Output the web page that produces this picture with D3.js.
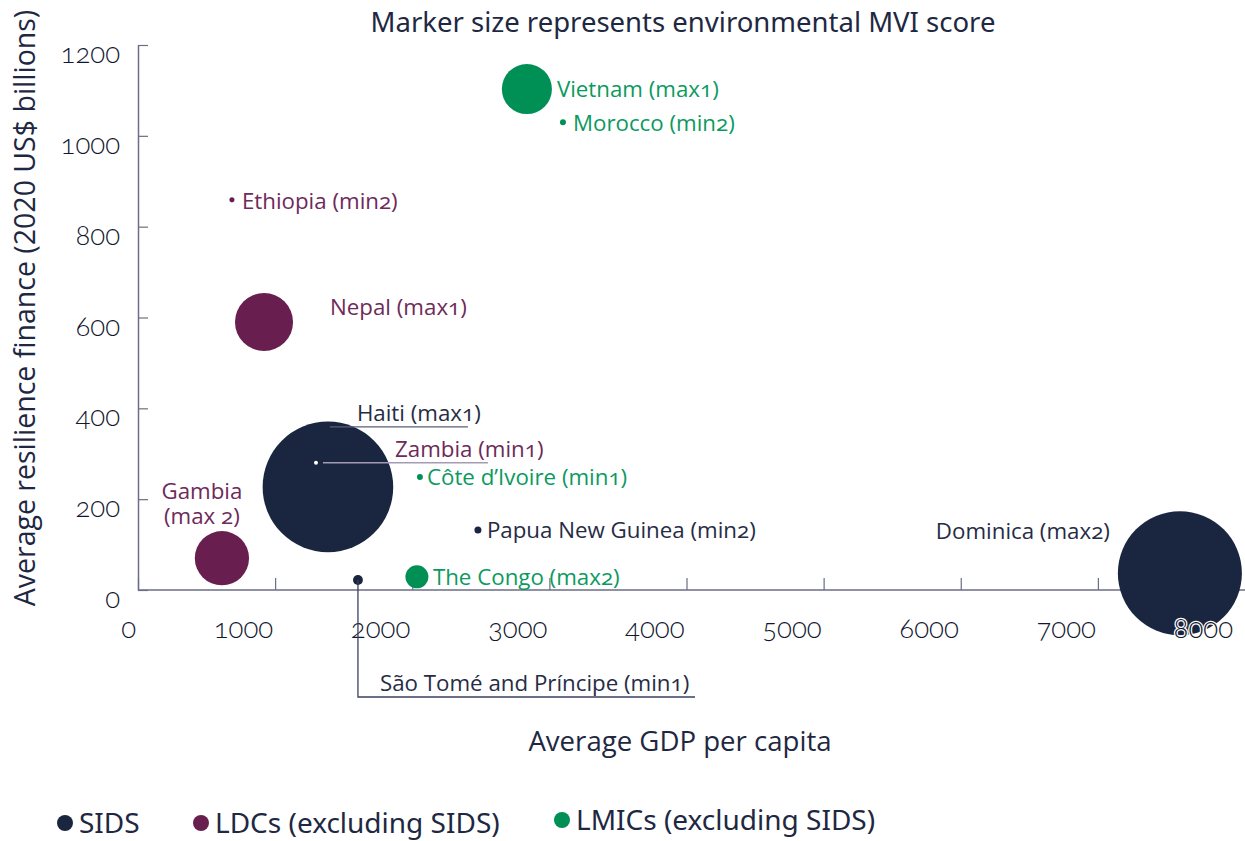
<!DOCTYPE html>
<html>
<head>
<meta charset="utf-8">
<script src="https://cdn.jsdelivr.net/npm/d3@7"></script>
<style>
  body { margin: 0; background: #fff; }
  svg { font-family: "Open Sans", Lato, sans-serif; }
  .onum { font-feature-settings: "onum"; }
</style>
</head>
<body>
<script>
// values
const countries = ["Vietnam", "Morocco", "Ethiopia", "Nepal", "Haiti", "Zambia", "Côte d'Ivoire",
                   "Papua New Guinea", "The Congo", "São Tomé and Príncipe", "Gambia", "Dominica"];
const labels = ["Vietnam (max1)", "Morocco (min2)", "Ethiopia (min2)", "Nepal (max1)", "Haiti (max1)",
                "Zambia (min1)", "Côte d’Ivoire (min1)", "Papua New Guinea (min2)", "The Congo (max2)",
                "São Tomé and Príncipe (min1)", "Gambia|(max 2)", "Dominica (max2)"];
const groups = ["LMIC", "LMIC", "LDC", "LDC", "SIDS", "LDC", "LMIC", "SIDS", "LMIC", "SIDS", "LDC", "SIDS"];
const gdp = [2836, 3099, 685, 919, 1385, 1298, 2056, 2479, 2034, 1604, 612, 7598];
const finance = [1103, 1030, 859, 590, 227, 280, 249, 132, 29, 22, 70, 37];
const mvi = [12.8, 0.18, 0.13, 17.2, 87, 0.08, 0.18, 0.25, 2.7, 0.5, 15, 78.5];

const xTicks = [0, 1000, 2000, 3000, 4000, 5000, 6000, 7000, 8000];
const yTicks = [0, 200, 400, 600, 800, 1000, 1200];

const legendKeys = ["SIDS", "LDC", "LMIC"];
const legendNames = ["SIDS", "LDCs (excluding SIDS)", "LMICs (excluding SIDS)"];

const fillColor = { SIDS: "#1a2640", LDC: "#681f50", LMIC: "#008f55" };
const textColor = { SIDS: "#262c45", LDC: "#6e2a5a", LMIC: "#0b9a5e" };

// label placement, relative to marker centre
const labelPos = {
  "Vietnam": [30, 0, "start"],
  "Morocco": [10, 1, "start"],
  "Ethiopia": [10, 1, "start"],
  "Nepal": [66, -15, "start"],
  "Haiti": [29, -74, "start"],
  "Zambia": [79, -14, "start"],
  "Côte d'Ivoire": [7, 0, "start"],
  "Papua New Guinea": [9, 0, "start"],
  "The Congo": [16, 0, "start"],
  "São Tomé and Príncipe": [22, 103, "start"],
  "Gambia": [-20, -67, "middle"],
  "Dominica": [-70, -42, "end"]
};

const W = 1245, H = 841;
const svg = d3.select("body").append("svg").attr("width", W).attr("height", H);

const x = d3.scaleLinear().domain([0, 8000]).range([138, 1235]);
const y = d3.scaleLinear().domain([0, 1200]).range([590, 45]);
const r = d3.scaleSqrt().domain([0, 100]).range([0, 70]);

const axisColor = "#6b6e84";

// title
svg.append("text")
  .attr("x", 683).attr("y", 32)
  .attr("text-anchor", "middle")
  .attr("font-family", "'Noto Sans', sans-serif")
  .attr("font-size", 27.5)
  .attr("fill", "#1e2842")
  .text("Marker size represents environmental MVI score");

// axes
let xAxis = svg.append("g")
  .attr("transform", `translate(0,${y(0)})`)
  .call(d3.axisBottom(x).tickValues(xTicks).tickSizeInner(-12).tickSizeOuter(0).tickFormat(d3.format("d")));
xAxis.select(".domain").attr("stroke", axisColor).attr("stroke-width", 1.5)
  .attr("d", `M${x(0)},0H${W}`);
xAxis.selectAll(".tick line").attr("stroke", axisColor).attr("stroke-width", 1.2);

let yAxis = svg.append("g")
  .attr("transform", `translate(${x(0)},0)`)
  .call(d3.axisLeft(y).tickValues(yTicks).tickSizeInner(-10).tickSizeOuter(0).tickFormat(d3.format("d")));
yAxis.select(".domain").attr("stroke", axisColor).attr("stroke-width", 1.5);
yAxis.selectAll(".tick line").attr("stroke", axisColor).attr("stroke-width", 1.2);

// markers
const idx = d3.range(countries.length);
svg.append("g").selectAll("circle")
  .data(idx)
  .join("circle")
  .attr("cx", i => x(gdp[i]))
  .attr("cy", i => y(finance[i]))
  .attr("r", i => r(mvi[i]))
  .attr("fill", i => countries[i] == "Zambia" ? "#ffffff" : fillColor[groups[i]]);

// tick labels drawn above markers with a white halo
const tickStyle = sel => sel
  .attr("font-family", "Lato, sans-serif")
  .attr("font-weight", 300)
  .attr("font-size", 27.5)
  .attr("fill", "#10172e")
  .attr("stroke", "#fff").attr("stroke-width", 2.5)
  .attr("paint-order", "stroke")
  .attr("class", "onum");

const xLab = svg.append("g");
xLab.selectAll("text").data(xTicks).join("text")
  .attr("x", d => x(d) - 2)
  .attr("y", y(0) + 48)
  .attr("text-anchor", "end")
  .text(d => d)
  .call(tickStyle);
xAxis.selectAll(".tick text").remove();

const yLab = svg.append("g");
yLab.selectAll("text").data(yTicks).join("text")
  .attr("x", x(0) - 18)
  .attr("y", d => y(d) + 18)
  .attr("text-anchor", "end")
  .text(d => d)
  .call(tickStyle);
yAxis.selectAll(".tick text").remove();

// leader lines
const px = c => x(gdp[countries.indexOf(c)]);
const py = c => y(finance[countries.indexOf(c)]);

svg.append("line")
  .attr("x1", px("Haiti") + 2).attr("x2", px("Haiti") + 140)
  .attr("y1", py("Haiti") - 60).attr("y2", py("Haiti") - 60)
  .attr("stroke", "#5a5f78").attr("stroke-width", 1.3);
svg.append("line")
  .attr("x1", px("Zambia") + 7).attr("x2", px("Zambia") + 172)
  .attr("y1", py("Zambia")).attr("y2", py("Zambia"))
  .attr("stroke", "#a49cb4").attr("stroke-width", 1.5);
svg.append("path")
  .attr("d", `M${px("São Tomé and Príncipe")},${py("São Tomé and Príncipe")}V${py("São Tomé and Príncipe") + 117}H695`)
  .attr("fill", "none")
  .attr("stroke", "#3c4260").attr("stroke-width", 1.3);

// country labels
const lab = svg.append("g")
  .attr("font-size", 22.3)
  .attr("class", "onum");
idx.forEach(i => {
  const p = labelPos[countries[i]];
  const t = lab.append("text")
    .attr("x", x(gdp[i]) + p[0])
    .attr("y", y(finance[i]) + p[1])
    .attr("text-anchor", p[2])
    .attr("fill", textColor[groups[i]]);
  labels[i].split("|").forEach((s, k) => {
    t.append("tspan").attr("x", x(gdp[i]) + p[0]).attr("dy", k == 0 ? "0.35em" : "1.12em").text(s);
  });
});

// axis titles
svg.append("text")
  .attr("x", 680).attr("y", 751)
  .attr("text-anchor", "middle")
  .attr("font-size", 27.6)
  .attr("fill", "#1e2842")
  .text("Average GDP per capita");

svg.append("text")
  .attr("transform", "translate(35,308) rotate(-90)")
  .attr("text-anchor", "middle")
  .attr("font-size", 28.5)
  .attr("fill", "#1e2842")
  .text("Average resilience finance (2020 US$ billions)");

// legend
const legX = [65, 201, 562];
const legY = [823, 823, 820];
const leg = svg.append("g")
  .attr("font-family", "'Noto Sans', sans-serif")
  .attr("font-size", 28);
legendKeys.forEach((k, i) => {
  leg.append("circle").attr("cx", legX[i]).attr("cy", legY[i]).attr("r", 8).attr("fill", fillColor[k]);
  leg.append("text").attr("x", legX[i] + 14).attr("y", legY[i]).attr("dy", "0.35em")
    .attr("fill", "#1e2842").text(legendNames[i]);
});
</script>
</body>
</html>
